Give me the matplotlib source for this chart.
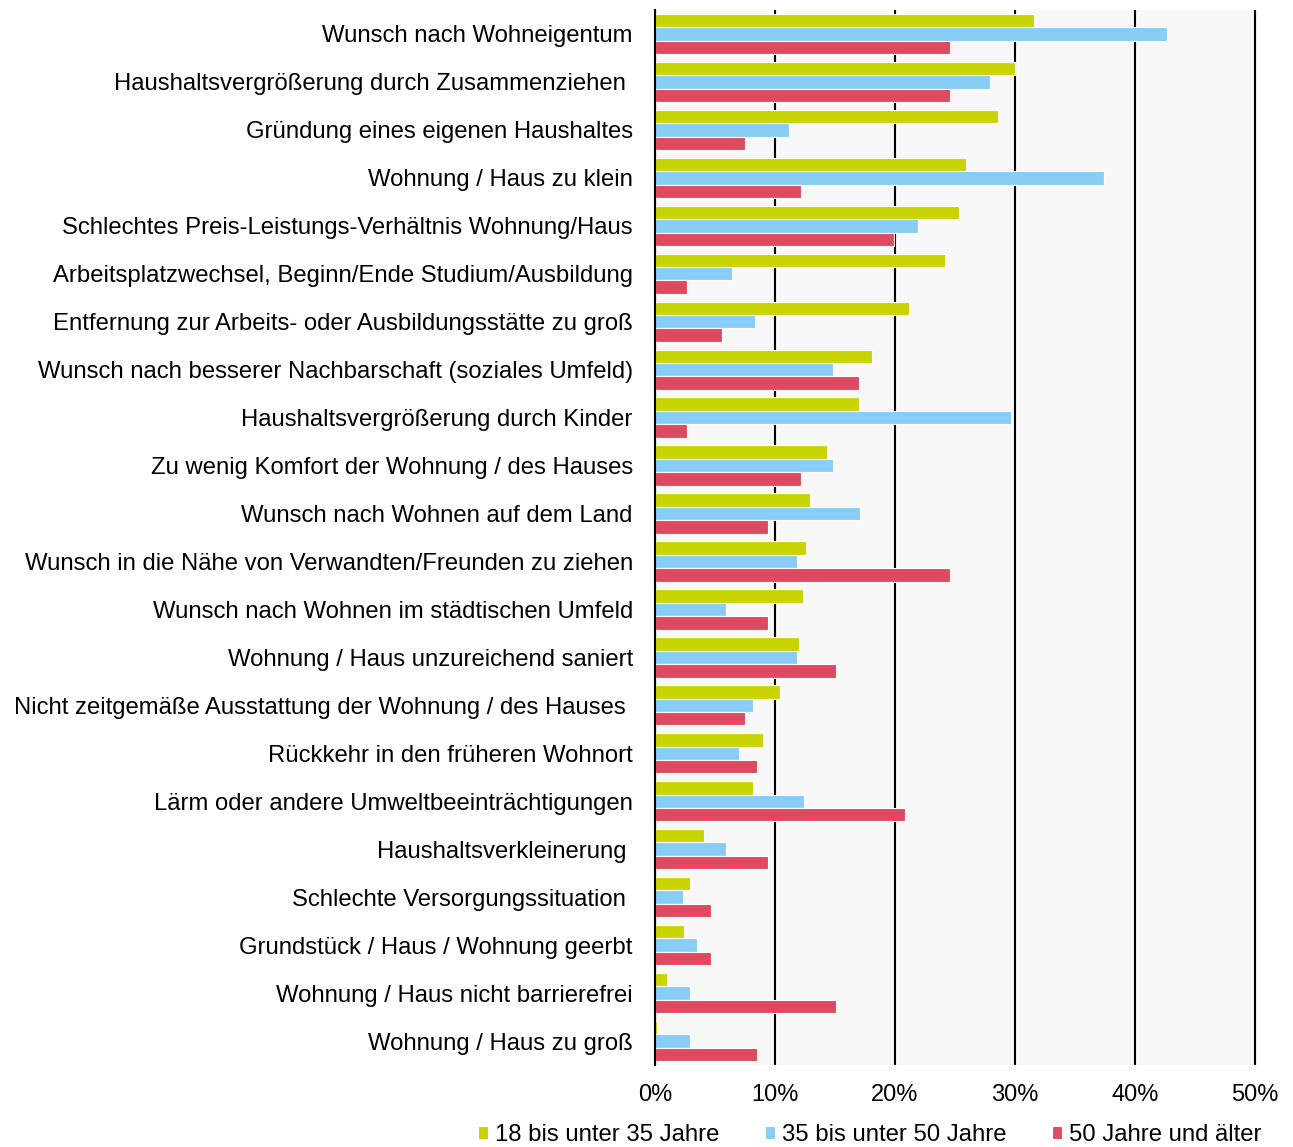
import numpy as np
import matplotlib
matplotlib.use("Agg")
import matplotlib.pyplot as plt
from matplotlib.ticker import PercentFormatter

plt.rcParams['font.family'] = ['Liberation Sans', 'DejaVu Sans']

categories = [
    'Wunsch nach Wohneigentum',
    'Haushaltsvergrößerung durch Zusammenziehen ',
    'Gründung eines eigenen Haushaltes',
    'Wohnung / Haus zu klein',
    'Schlechtes Preis-Leistungs-Verhältnis Wohnung/Haus',
    'Arbeitsplatzwechsel, Beginn/Ende Studium/Ausbildung',
    'Entfernung zur Arbeits- oder Ausbildungsstätte zu groß',
    'Wunsch nach besserer Nachbarschaft (soziales Umfeld)',
    'Haushaltsvergrößerung durch Kinder',
    'Zu wenig Komfort der Wohnung / des Hauses',
    'Wunsch nach Wohnen auf dem Land',
    'Wunsch in die Nähe von Verwandten/Freunden zu ziehen',
    'Wunsch nach Wohnen im städtischen Umfeld',
    'Wohnung / Haus unzureichend saniert',
    'Nicht zeitgemäße Ausstattung der Wohnung / des Hauses ',
    'Rückkehr in den früheren Wohnort',
    'Lärm oder andere Umweltbeeinträchtigungen',
    'Haushaltsverkleinerung ',
    'Schlechte Versorgungssituation ',
    'Grundstück / Haus / Wohnung geerbt',
    'Wohnung / Haus nicht barrierefrei',
    'Wohnung / Haus zu groß',
]

# Anteile in Prozent
age_18_35 = [31.6, 30.0, 28.6, 25.9, 25.3, 24.2, 21.2, 18.1, 17.0, 14.3, 12.9,
             12.6, 12.3, 12.0, 10.4, 9.0, 8.15, 4.05, 2.9, 2.4, 1.0, 0.17]
age_35_50 = [42.7, 27.9, 11.2, 37.4, 21.9, 6.4, 8.3, 14.8, 29.7, 14.8, 17.1,
             11.8, 5.9, 11.8, 8.2, 7.0, 12.4, 5.9, 2.3, 3.5, 2.9, 2.9]
age_50_plus = [24.6, 24.6, 7.5, 12.2, 19.95, 2.7, 5.6, 17.0, 2.7, 12.2, 9.4,
               24.6, 9.4, 15.1, 7.5, 8.5, 20.85, 9.4, 4.65, 4.65, 15.1, 8.5]

series = [age_18_35, age_35_50, age_50_plus]
series_names = ['18 bis unter 35 Jahre', '35 bis unter 50 Jahre', '50 Jahre und älter']
colors = ['#c8d400', '#87cdf5', '#e04a60']

fig = plt.figure(figsize=(12.93, 11.47), dpi=100)
ax = fig.add_axes([655 / 1293, 1 - 1065 / 1147, 603 / 1293, 1055 / 1147])
ax.set_facecolor('#f8f8f8')

y = np.arange(len(categories))
h = 0.28
for i, (vals, c, name) in enumerate(zip(series, colors, series_names)):
    ax.barh(y + (i - 1) * h, vals, height=h, color=c, edgecolor='white',
            linewidth=0.8, label=name, zorder=3)

ax.set_ylim(len(categories) - 0.5, -0.5)
ax.set_xlim(0, 50.25)
ax.set_xticks(range(0, 51, 10))
ax.xaxis.set_major_formatter(PercentFormatter(decimals=0))
ax.set_yticks(y)
ax.set_yticklabels(categories)
ax.tick_params(axis='y', length=0, pad=16, labelsize=17.2)
ax.tick_params(axis='x', length=0, pad=14, labelsize=17)
ax.grid(axis='x', color='black', linewidth=1.5, zorder=1)
for s in ['top', 'right', 'bottom']:
    ax.spines[s].set_visible(False)
ax.spines['left'].set_color('black')
ax.spines['left'].set_linewidth(1.5)
ax.spines['left'].set_zorder(4)

fig.legend(*ax.get_legend_handles_labels(), loc='center',
           bbox_to_anchor=(870 / 1293, 1 - 1135 / 1147), ncol=3, frameon=False,
           fontsize=17.2, handlelength=0.42, handleheight=0.42, handletextpad=0.3,
           columnspacing=1.9, borderpad=0, borderaxespad=0)

fig.savefig('out.png', dpi=100)
